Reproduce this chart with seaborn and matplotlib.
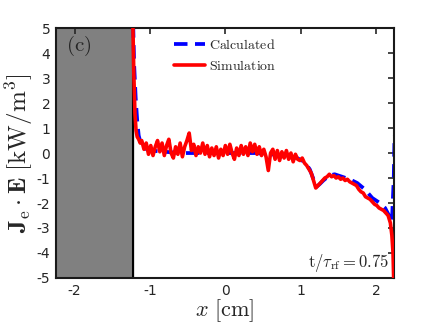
import numpy as np
import pandas as pd
import matplotlib
matplotlib.use("Agg")
import matplotlib.pyplot as plt
import seaborn as sns

# Simulation (red, noisy)
x_sim = [-1.23, -1.215, -1.20, -1.185, -1.17, -1.15, -1.13, -1.11, -1.08, -1.05,
         -1.02, -0.99, -0.96, -0.93, -0.90, -0.87, -0.84, -0.81, -0.78, -0.75,
         -0.72, -0.69, -0.66, -0.63, -0.60, -0.57, -0.54, -0.51, -0.48, -0.45,
         -0.42, -0.39, -0.36, -0.33, -0.30, -0.27, -0.24, -0.21, -0.18, -0.15,
         -0.12, -0.09, -0.06, -0.03, 0.00, 0.03, 0.06, 0.09, 0.12, 0.15,
         0.18, 0.21, 0.24, 0.27, 0.30, 0.33, 0.36, 0.39, 0.42, 0.45,
         0.48, 0.51, 0.54, 0.57, 0.60, 0.63, 0.66, 0.69, 0.72, 0.75,
         0.78, 0.81, 0.84, 0.87, 0.90, 0.93, 0.96, 0.99, 1.02, 1.05,
         1.08, 1.11, 1.14, 1.17, 1.20, 1.23, 1.26, 1.29, 1.32, 1.35,
         1.38, 1.41, 1.44, 1.47, 1.50, 1.53, 1.56, 1.59, 1.62, 1.65,
         1.68, 1.71, 1.74, 1.77, 1.80, 1.83, 1.86, 1.89, 1.92, 1.95,
         1.98, 2.01, 2.04, 2.07, 2.10, 2.13, 2.16, 2.19, 2.21, 2.225, 2.235]
y_sim = [5.6, 3.2, 1.6, 0.9, 0.65, 0.55, 0.4, 0.5, 0.15, 0.4,
         -0.05, 0.3, -0.1, 0.25, 0.5, 0.05, 0.4, -0.1, 0.3, 0.55,
         0.0, -0.2, 0.25, -0.05, 0.4, -0.15, 0.25, 0.5, 0.8, 0.1,
         0.35, -0.1, 0.25, 0.0, 0.4, -0.05, 0.3, -0.15, 0.2, -0.1,
         0.25, -0.2, 0.15, -0.1, 0.3, -0.05, 0.35, 0.0, -0.25, 0.2,
         -0.1, 0.3, -0.05, 0.25, -0.1, 0.4, 0.05, 0.35, -0.05, 0.25,
         -0.1, 0.15, -0.15, -0.7, 0.0, 0.15, -0.25, 0.1, -0.3, 0.05,
         -0.2, 0.1, -0.25, 0.0, -0.35, -0.05, -0.25, -0.3, -0.2, -0.4,
         -0.5, -0.65, -0.8, -1.1, -1.4, -1.3, -1.2, -1.1, -1.0, -0.95,
         -0.85, -0.95, -0.9, -1.0, -0.95, -1.05, -1.0, -1.1, -1.05, -1.15,
         -1.2, -1.25, -1.3, -1.45, -1.55, -1.6, -1.75, -1.8, -1.85, -1.95,
         -2.05, -2.1, -2.2, -2.25, -2.3, -2.4, -2.5, -2.8, -3.3, -4.0, -5.2]

# Calculated (blue, dashed)
x_calc = [-1.23, -1.21, -1.19, -1.17, -1.15, -1.12, -1.08, -1.0, -0.8, -0.6,
          -0.4, -0.2, 0.0, 0.2, 0.4, 0.6, 0.8, 0.95, 1.05, 1.12,
          1.17, 1.21, 1.25, 1.30, 1.38, 1.45, 1.55, 1.65, 1.75, 1.85,
          1.95, 2.05, 2.12, 2.18, 2.21, 2.235, 2.245]
y_calc = [6.0, 3.5, 2.2, 1.3, 0.7, 0.35, 0.2, 0.1, 0.05, 0.0,
          0.0, 0.0, 0.0, 0.0, 0.0, -0.05, -0.1, -0.2, -0.35, -0.65,
          -1.05, -1.35, -1.25, -1.1, -0.9, -0.85, -0.95, -1.05, -1.2, -1.45,
          -1.8, -2.0, -2.2, -2.55, -2.8, -1.0, 0.7]

x_ticks = [-2, -1, 0, 1, 2]
y_ticks = [-5, -4, -3, -2, -1, 0, 1, 2, 3, 4, 5]
wall_x = [-2.25, -1.225]

sns.set_style("white")
plt.rcParams["mathtext.fontset"] = "cm"
plt.rcParams["font.family"] = ["DejaVu Sans"]

fig = plt.figure(figsize=(4.36, 3.27), dpi=100)
ax = fig.add_axes([0.128, 0.150, 0.776, 0.764])

ax.axvspan(wall_x[0], wall_x[1], color="#808080", zorder=0)
ax.axvline(wall_x[1], color="black", lw=1.5, zorder=1)

df_c = pd.DataFrame({"x": x_calc, "y": y_calc})
df_s = pd.DataFrame({"x": x_sim, "y": y_sim})
sns.lineplot(data=df_c, x="x", y="y", sort=False, ax=ax, color="#0000ff",
             lw=2.7, label=r"$\mathrm{Calculated}$", zorder=2)
ax.lines[-1].set_dashes([3.6, 2.0])
sns.lineplot(data=df_s, x="x", y="y", sort=False, ax=ax, color="#ff0000",
             lw=2.6, label=r"$\mathrm{Simulation}$", zorder=3)

ax.set_xlim(-2.25, 2.24)
ax.set_ylim(-5, 5)
ax.set_xticks(x_ticks)
ax.set_yticks(y_ticks)
ax.set_xticklabels([str(v) for v in x_ticks])
ax.set_yticklabels([str(v) for v in y_ticks])
ax.tick_params(direction="in", length=4, width=1.2, top=True, right=True,
               labelsize=10, colors="#262626", labelcolor="#262626", pad=4)
for s in ax.spines.values():
    s.set_color("#1a1a1a")
    s.set_linewidth(1.5)
    s.set_visible(True)

ax.set_xlabel(r"$x\ [\mathrm{cm}]$", fontsize=16, labelpad=0)
ax.set_ylabel(r"$\mathbf{J}_\mathrm{e}\cdot\mathbf{E}\ [\mathrm{kW/m}^3]$",
              fontsize=18, labelpad=1)

ax.text(0.03, 0.93, r"$\mathrm{(c)}$", transform=ax.transAxes, fontsize=15,
        ha="left", va="center")
ax.text(0.985, 0.06, r"$\mathrm{t}/\tau_\mathrm{rf} = 0.75$", transform=ax.transAxes,
        fontsize=12, ha="right", va="center")

leg = ax.legend(loc="upper center", bbox_to_anchor=(0.50, 1.0), frameon=False,
                fontsize=10, handlelength=2.2, handletextpad=0.3, labelspacing=0.5,
                borderaxespad=0.3)

fig.savefig("out.png", dpi=100)
